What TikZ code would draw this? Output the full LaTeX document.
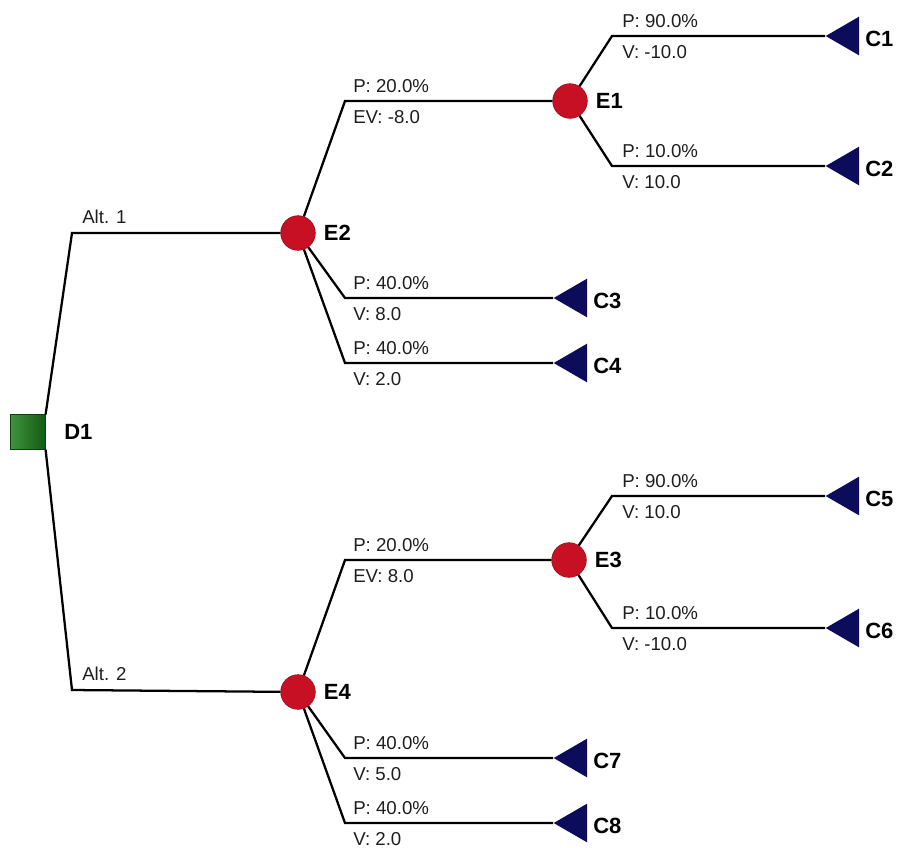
\documentclass[tikz,border=0pt]{standalone}
\usepackage{fontspec}
\setmainfont{Liberation Sans}
\usepackage{xcolor}
\usetikzlibrary{shapes.geometric}
\usetikzlibrary{positioning}

\definecolor{decgreen}{RGB}{28,128,28}
\definecolor{chancered}{RGB}{200,16,36}
\definecolor{endnavy}{RGB}{12,12,90}
\definecolor{labelgray}{RGB}{30,30,30}

\tikzset{
  decision/.style={rectangle, left color=decgreen!85!white, right color=decgreen!70!black,
    draw=decgreen!50!black, minimum size=26pt, inner sep=0pt},
  chance/.style={circle, fill=chancered, draw=chancered!70!black, minimum size=26pt, inner sep=0pt},
  terminal/.style={isosceles triangle, isosceles triangle stretches, rotate=180, fill=endnavy,
    minimum height=25pt, minimum width=29pt, inner sep=0pt, anchor=apex},
  branch/.style={line width=1.7pt, black},
  nodelabel/.style={font=\bfseries\fontsize{16.5}{16.5}\selectfont, text=black, inner sep=0pt, anchor=west},
  prob/.style={font=\fontsize{14}{14}\selectfont, text=labelgray, inner sep=0pt, anchor=base west},
}

\begin{document}
\begin{tikzpicture}[x=0.75pt, y=-0.75pt]

  \useasboundingbox (0,0) rectangle (898,847);

  % Define nodes
  \node[decision] (d1) at (28,432) {};
  \node[nodelabel] (l_d1) at (64,432) {D1};

  \coordinate (alt1) at (72,233);
  \coordinate (alt2) at (72,690);

  \node[chance] (e2) at (298,233) {};
  \node[chance] (e4) at (298,692) {};
  \node[chance] (e1) at (570,101) {};
  \node[chance] (e3) at (569,560) {};

  \node[nodelabel, right=6pt of e2] (l_e2) {E2};
  \node[nodelabel, right=6pt of e4] (l_e4) {E4};
  \node[nodelabel, right=6pt of e1] (l_e1) {E1};
  \node[nodelabel, right=6pt of e3] (l_e3) {E3};

  \coordinate (k_e1) at (345,101);
  \coordinate (k_c3) at (345,298);
  \coordinate (k_c4) at (345,363);
  \coordinate (k_c1) at (612,36);
  \coordinate (k_c2) at (612,166);
  \coordinate (k_e3) at (345,560);
  \coordinate (k_c7) at (345,758);
  \coordinate (k_c8) at (345,823);
  \coordinate (k_c5) at (612,496);
  \coordinate (k_c6) at (612,628);

  \node[terminal] (c1) at (825,36) {};
  \node[terminal] (c2) at (825,166) {};
  \node[terminal] (c3) at (553,298) {};
  \node[terminal] (c4) at (553,363) {};
  \node[terminal] (c5) at (825,496) {};
  \node[terminal] (c6) at (825,628) {};
  \node[terminal] (c7) at (553,758) {};
  \node[terminal] (c8) at (553,823) {};

  \node[nodelabel] (l_c1) at ([shift={(40,3)}]c1.apex) {C1};
  \node[nodelabel] (l_c2) at ([shift={(40,3)}]c2.apex) {C2};
  \node[nodelabel] (l_c3) at ([shift={(40,3)}]c3.apex) {C3};
  \node[nodelabel] (l_c4) at ([shift={(40,3)}]c4.apex) {C4};
  \node[nodelabel] (l_c5) at ([shift={(40,3)}]c5.apex) {C5};
  \node[nodelabel] (l_c6) at ([shift={(40,3)}]c6.apex) {C6};
  \node[nodelabel] (l_c7) at ([shift={(40,3)}]c7.apex) {C7};
  \node[nodelabel] (l_c8) at ([shift={(40,3)}]c8.apex) {C8};

  % Branch labels
  \node[prob] (p_alt1) at ([shift={(10,-10)}]alt1) {Alt. 1};
  \node[prob] (p_alt2) at ([shift={(10,-10)}]alt2) {Alt. 2};

  \node[prob] (p_e1) at ([shift={(8,-9)}]k_e1) {P: 20.0\%};
  \node[prob] (v_e1) at ([shift={(8,22)}]k_e1) {EV: -8.0};
  \node[prob] (p_c3) at ([shift={(8,-9)}]k_c3) {P: 40.0\%};
  \node[prob] (v_c3) at ([shift={(8,22)}]k_c3) {V: 8.0};
  \node[prob] (p_c4) at ([shift={(8,-9)}]k_c4) {P: 40.0\%};
  \node[prob] (v_c4) at ([shift={(8,22)}]k_c4) {V: 2.0};

  \node[prob] (p_c1) at ([shift={(10,-9)}]k_c1) {P: 90.0\%};
  \node[prob] (v_c1) at ([shift={(10,22)}]k_c1) {V: -10.0};
  \node[prob] (p_c2) at ([shift={(10,-9)}]k_c2) {P: 10.0\%};
  \node[prob] (v_c2) at ([shift={(10,22)}]k_c2) {V: 10.0};

  \node[prob] (p_e3) at ([shift={(8,-9)}]k_e3) {P: 20.0\%};
  \node[prob] (v_e3) at ([shift={(8,22)}]k_e3) {EV: 8.0};
  \node[prob] (p_c7) at ([shift={(8,-9)}]k_c7) {P: 40.0\%};
  \node[prob] (v_c7) at ([shift={(8,22)}]k_c7) {V: 5.0};
  \node[prob] (p_c8) at ([shift={(8,-9)}]k_c8) {P: 40.0\%};
  \node[prob] (v_c8) at ([shift={(8,22)}]k_c8) {V: 2.0};

  \node[prob] (p_c5) at ([shift={(10,-9)}]k_c5) {P: 90.0\%};
  \node[prob] (v_c5) at ([shift={(10,22)}]k_c5) {V: 10.0};
  \node[prob] (p_c6) at ([shift={(10,-9)}]k_c6) {P: 10.0\%};
  \node[prob] (v_c6) at ([shift={(10,22)}]k_c6) {V: -10.0};

  % Connect nodes
  \draw[branch] (d1.north east) -- (alt1) -- (e2);
  \draw[branch] (d1.south east) -- (alt2) -- (e4);

  \draw[branch] (e2) -- (k_e1) -- (e1);
  \draw[branch] (e2) -- (k_c3) -- (c3.apex);
  \draw[branch] (e2) -- (k_c4) -- (c4.apex);

  \draw[branch] (e1) -- (k_c1) -- (c1.apex);
  \draw[branch] (e1) -- (k_c2) -- (c2.apex);

  \draw[branch] (e4) -- (k_e3) -- (e3);
  \draw[branch] (e4) -- (k_c7) -- (c7.apex);
  \draw[branch] (e4) -- (k_c8) -- (c8.apex);

  \draw[branch] (e3) -- (k_c5) -- (c5.apex);
  \draw[branch] (e3) -- (k_c6) -- (c6.apex);

\end{tikzpicture}
\end{document}
